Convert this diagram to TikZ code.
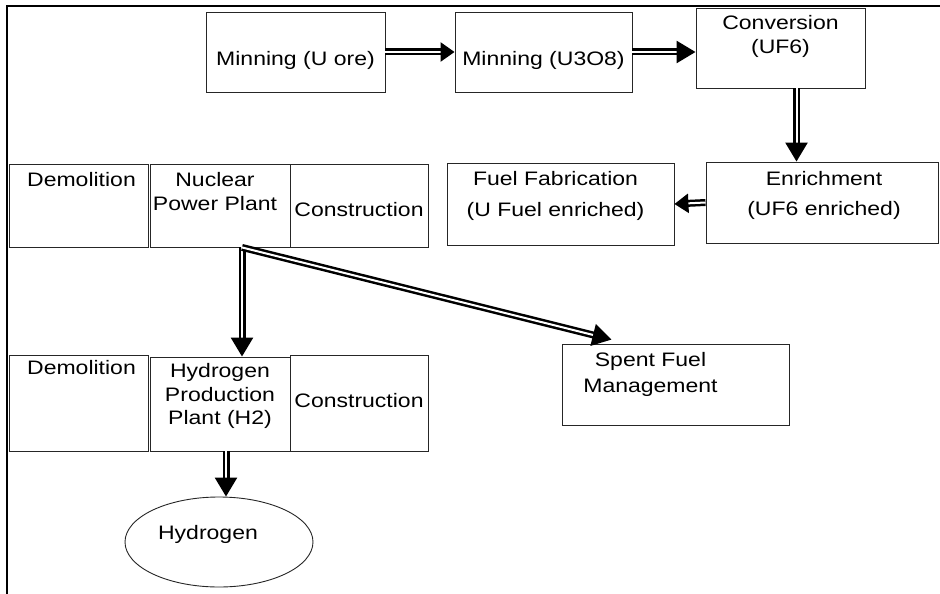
\documentclass[tikz,border=0pt]{standalone}
\usepackage{fontspec}
\setmainfont{Liberation Sans}[FakeStretch=1.18]
\usetikzlibrary{arrows.meta,positioning,shapes.geometric}

\begin{document}
\begin{tikzpicture}[
  x=1pt, y=-1pt,
  font=\fontsize{19.5}{23.5}\selectfont,
  box/.style={
    rectangle,
    draw=black!85,
    line width=0.9pt,
    inner sep=0pt
  },
  txt/.style={anchor=north, align=center, inner sep=0pt},
  flow/.style={double, double distance=2pt, line width=2.5pt,
    -{Triangle[length=19pt, width=22pt]}},
  smallflow/.style={flow, -{Triangle[length=14pt, width=19pt]}}
]

  \useasboundingbox (0,0) rectangle (940,594);
  \draw[line width=1.2pt] (7,594) -- (7,6) -- (940,6);

  % fuel chain
  \node[box, minimum width=179pt, minimum height=80pt,
    label={[txt, yshift=-40pt]north:Minning (U ore)}] (ore) at (295.5,52) {};
  \node[box, minimum width=177pt, minimum height=80pt,
    label={[txt, yshift=-40pt]north:Minning (U3O8)}] (oxide) at (543.5,52) {};
  \node[box, minimum width=169pt, minimum height=80pt,
    label={[txt, yshift=-8pt]north:{Conversion\\(UF6)}}] (conversion) at (780.5,48) {};
  \node[box, minimum width=232pt, minimum height=81pt,
    label={[txt, yshift=-10pt, xshift=2pt]north:{Enrichment\\[6pt](UF6 enriched)}}] (enrichment) at (822,202.5) {};
  \node[box, minimum width=227pt, minimum height=82pt,
    label={[txt, yshift=-9pt, xshift=-5pt]north:{Fuel Fabrication\\[7pt](U Fuel enriched)}}] (fabrication) at (560.5,204) {};

  % power plant row
  \node[box, minimum width=139pt, minimum height=83pt,
    label={[txt, yshift=-9pt, xshift=3pt]north:Demolition}] (demolitionA) at (78.5,205.5) {};
  \node[box, minimum width=140pt, minimum height=83pt,
    label={[txt, yshift=-9pt, xshift=-5pt]north:{Nuclear\\Power Plant}}] (plant) at (220,205.5) {};
  \node[box, minimum width=138pt, minimum height=83pt,
    label={[txt, yshift=-39pt]north:Construction}] (constructionA) at (359,205.5) {};

  % hydrogen row
  \node[box, minimum width=139pt, minimum height=96pt,
    label={[txt, yshift=-6pt, xshift=3pt]north:Demolition}] (demolitionB) at (78.5,403) {};
  \node[box, minimum width=140pt, minimum height=94pt,
    label={[txt, yshift=-7pt]north:{Hydrogen\\Production\\Plant (H2)}}] (h2plant) at (220,404) {};
  \node[box, minimum width=138pt, minimum height=96pt,
    label={[txt, yshift=-39pt]north:Construction}] (constructionB) at (359,403) {};

  \node[box, minimum width=227pt, minimum height=81pt,
    label={[txt, yshift=-9pt, xshift=-25pt]north:{Spent Fuel\\[2.5pt]Management}}] (spent) at (675.5,384.5) {};
  \node[box, ellipse, minimum width=188pt, minimum height=90pt,
    label={[txt, yshift=-29pt, xshift=-11pt]north:Hydrogen}] (hydrogen) at (219,542) {};

  \coordinate (split) at ([xshift=22pt]plant.south);

  \draw[smallflow] (ore.east) -- (oxide.west);
  \draw[flow] (oxide.east) -- (oxide.east -| conversion.west);
  \draw[flow] ([xshift=16pt]conversion.south) -- ([xshift=16pt]conversion.south |- enrichment.north);
  \draw[smallflow] (enrichment.west) -- (fabrication.east);
  \draw[flow] (split) -- (split |- h2plant.north);
  \draw[flow] (split) -- ([shift={(50,-4)}]spent.north west);
  \draw[flow] ([xshift=6pt]h2plant.south) -- ([xshift=6pt]h2plant.south |- hydrogen.north);

\end{tikzpicture}
\end{document}
